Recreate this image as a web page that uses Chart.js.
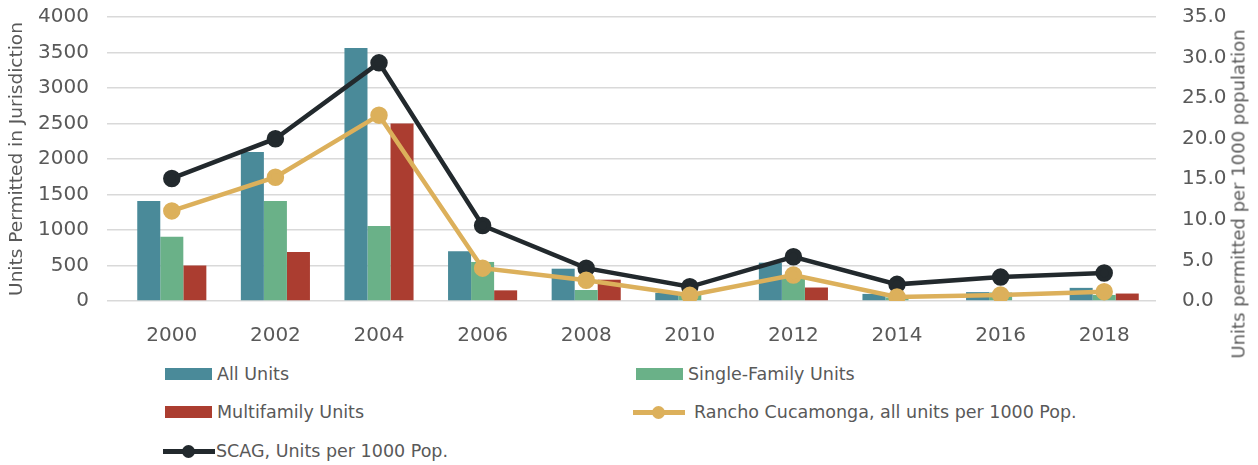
<!DOCTYPE html>
<html>
<head>
<meta charset="utf-8">
<script src="https://cdn.jsdelivr.net/npm/chart.js@4"></script>
<style>
  body { margin:0; background:#fff; font-family:"DejaVu Sans", sans-serif; }
  #wrap { position:relative; width:1258px; height:465px; overflow:hidden; }
  #chartBox { position:absolute; left:0; top:0; width:1258px; height:346px; }
  .lg { position:absolute; font-size:17.5px; color:#595959; white-space:nowrap; line-height:20px; }
  .lg .box { position:absolute; left:0; top:4px; width:47px; height:12px; }
  .lg .ln { position:absolute; left:0; top:8px; width:52px; height:4.5px; }
  .lg .dot { position:absolute; left:19px; top:3.5px; width:13px; height:13px; border-radius:50%; }
  #rightTitle { position:absolute; left:1238px; top:194px; transform:translate(-50%,-50%) rotate(-90deg);
    font-size:18px; color:#595959; white-space:nowrap; }
</style>
</head>
<body>
<div id="wrap">
  <div id="chartBox"><canvas id="chartUnits"></canvas></div>
  <div id="rightTitle">Units permitted per 1000 population</div>
  <div id="legend"></div>
</div>
<script>
// Values
const years = ["2000","2002","2004","2006","2008","2010","2012","2014","2016","2018"];
const allUnits = [1410, 2100, 3565, 700, 455, 115, 540, 100, 125, 185];
const singleFamily = [905, 1410, 1055, 550, 155, 100, 330, 50, 120, 85];
const multiFamily = [500, 690, 2500, 150, 300, 0, 190, 0, 0, 105];
const ranchoPer1000 = [11.1, 15.25, 22.9, 4.05, 2.55, 0.7, 3.2, 0.5, 0.75, 1.15];
const scagPer1000 = [15.1, 20.0, 29.35, 9.3, 4.05, 1.75, 5.45, 2.05, 2.95, 3.45];
const leftTicks = [0, 500, 1000, 1500, 2000, 2500, 3000, 3500, 4000];

const colors = {
  all: '#4a8a99',
  sf: '#6ab188',
  mf: '#ab3d30',
  rancho: '#dcb05b',
  scag: '#22292d'
};
const tickColor = '#595959';
const tickFont = { family: 'DejaVu Sans', size: 20 };

const barDs = (label, data, color) => ({
  type: 'bar', label, data, backgroundColor: color, borderWidth: 0,
  yAxisID: 'y', order: 2, barPercentage: 1, categoryPercentage: 0.667
});
const lineDs = (label, data, color) => ({
  type: 'line', label, data, borderColor: color, backgroundColor: color,
  borderWidth: 4.5, pointRadius: 6.5, pointHoverRadius: 6.5, tension: 0,
  yAxisID: 'y1', order: 0
});

// fixed axis sizes so the plot area sits where it does in the original
const fixV = w => s => { s.width = w; s.paddingTop = 0; s.paddingBottom = 0; };

new Chart(document.getElementById('chartUnits').getContext('2d'), {
  data: {
    labels: years,
    datasets: [
      barDs('All Units', allUnits, colors.all),
      barDs('Single-Family Units', singleFamily, colors.sf),
      barDs('Multifamily Units', multiFamily, colors.mf),
      lineDs('Rancho Cucamonga, all units per 1000 Pop.', ranchoPer1000, colors.rancho),
      lineDs('SCAG, Units per 1000 Pop.', scagPer1000, colors.scag)
    ]
  },
  options: {
    responsive: true,
    maintainAspectRatio: false,
    animation: false,
    layout: { padding: { top: 17, left: 0, right: 0, bottom: 0 } },
    plugins: { legend: { display: false }, tooltip: { enabled: false } },
    scales: {
      x: {
        grid: { display: false },
        border: { display: false },
        ticks: { color: tickColor, font: tickFont, padding: 15 },
        afterFit: s => { s.height = 45; }
      },
      y: {
        position: 'left',
        min: 0, max: 4000,
        afterBuildTicks: s => { s.ticks = leftTicks.map(v => ({ value: v })); },
        grid: { color: '#d9d9d9', lineWidth: 1.5, tickLength: 13 },
        border: { display: false },
        ticks: { color: tickColor, font: tickFont, padding: 18, callback: v => String(v) },
        title: { display: true, text: 'Units Permitted in Jurisdiction', color: tickColor,
                 font: { family: 'DejaVu Sans', size: 18.5 }, padding: { top: 6, bottom: 0 } },
        afterFit: fixV(120)
      },
      y1: {
        position: 'right',
        min: 0, max: 35,
        grid: { display: false },
        border: { display: false },
        ticks: { stepSize: 5, color: tickColor, font: tickFont, padding: 18,
                 callback: v => Number(v).toFixed(1) },
        afterFit: fixV(102)
      }
    }
  }
});

// HTML legend laid out in two columns like the original
const legendItems = [
  { label: 'All Units', color: colors.all, kind: 'box', x: 165, y: 364 },
  { label: 'Single-Family Units', color: colors.sf, kind: 'box', x: 636, y: 364 },
  { label: 'Multifamily Units', color: colors.mf, kind: 'box', x: 165, y: 402 },
  { label: 'Rancho Cucamonga, all units per 1000 Pop.', color: colors.rancho, kind: 'line', x: 633, y: 402 },
  { label: 'SCAG, Units per 1000 Pop.', color: colors.scag, kind: 'line', x: 163, y: 441 }
];
const legendEl = document.getElementById('legend');
legendItems.forEach(it => {
  const d = document.createElement('div');
  d.className = 'lg';
  d.style.left = it.x + 'px';
  d.style.top = it.y + 'px';
  let mark;
  if (it.kind === 'box') {
    mark = `<span class="box" style="background:${it.color}"></span>`;
    d.style.paddingLeft = '52px';
  } else {
    mark = `<span class="ln" style="background:${it.color}"></span><span class="dot" style="background:${it.color}"></span>`;
    d.style.paddingLeft = it.x > 600 ? '61px' : '53px';
  }
  d.innerHTML = mark + it.label;
  legendEl.appendChild(d);
});
</script>
</body>
</html>
